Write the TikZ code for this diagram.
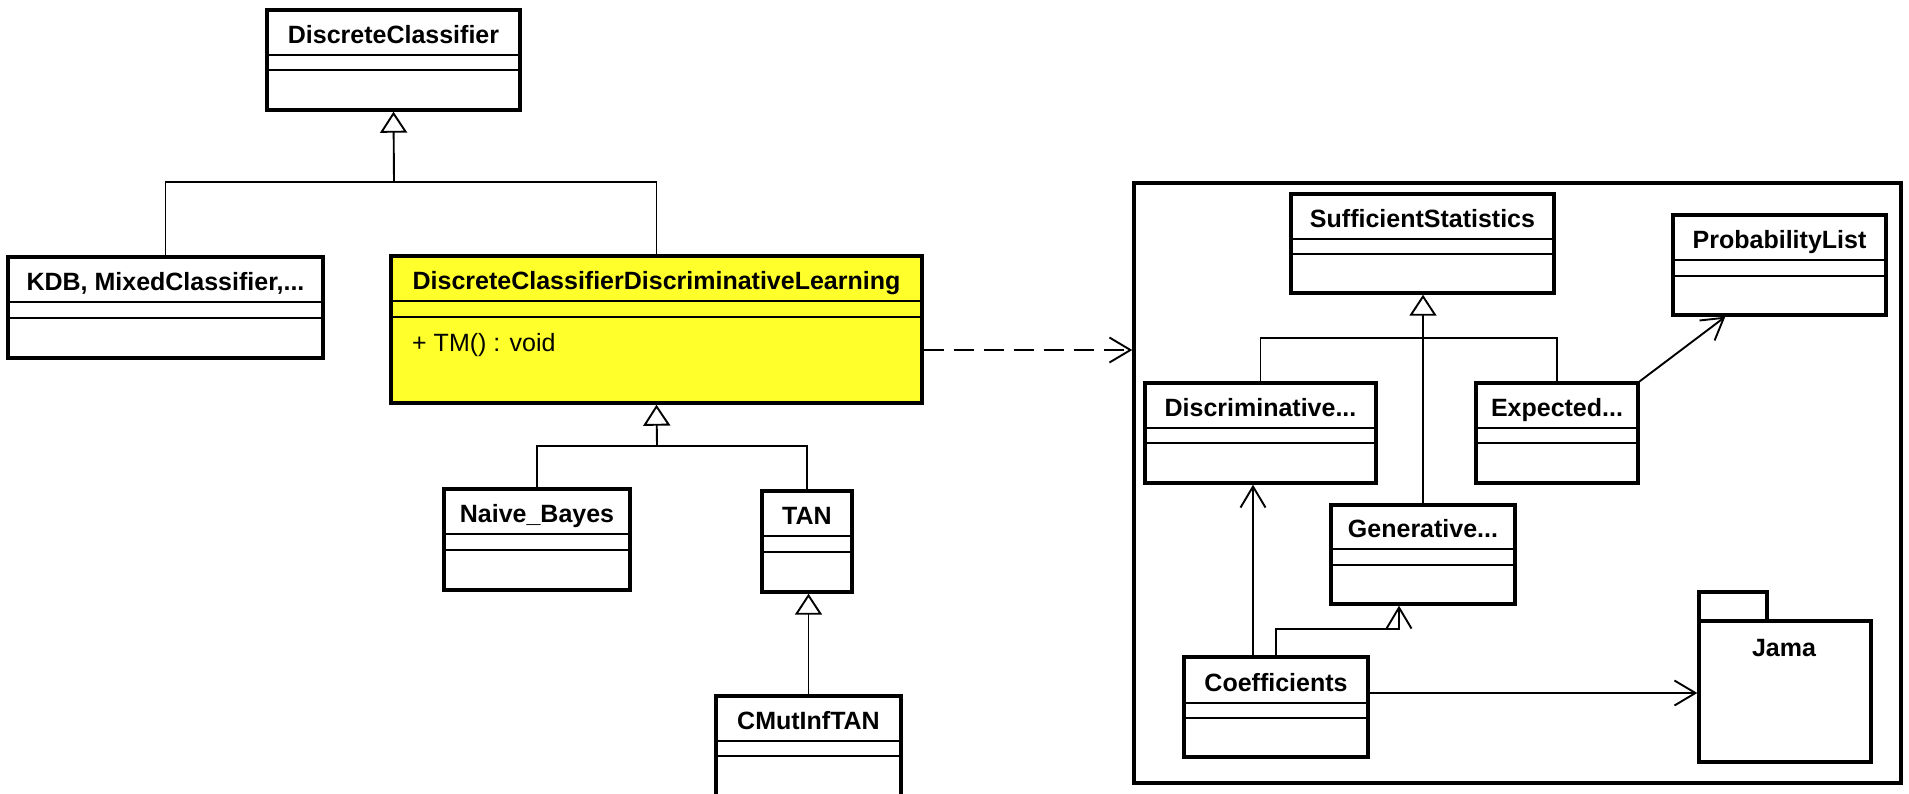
\documentclass[tikz,border=0pt]{standalone}
\usepackage{fontspec}
\setmainfont{Liberation Sans}
\usetikzlibrary{arrows.meta,fit}

\definecolor{umlyellow}{RGB}{255,255,44}

\tikzset{
  x=1pt, y=-1pt,
  classbox/.style={draw, line width=3.4pt, fill=white, inner sep=0pt},
  pkgbox/.style={draw, line width=3.4pt, fill=white, inner sep=0pt},
  divider/.style={line width=1.7pt},
  cname/.style={font=\bfseries\fontsize{25}{29}\selectfont, inner sep=0pt},
  method/.style={font=\fontsize{25}{29}\selectfont, inner sep=0pt},
  conn/.style={line width=1.9pt},
  gen/.style={conn, -{Triangle[length=21pt, width=27pt, fill=white, line width=1.9pt]}},
  dep/.style={conn, -{Straight Barb[length=21pt, width=25pt, line width=1.9pt]}},
}

% #1 extra options, #2 name, #3 left, #4 top, #5 right, #6 bottom,
% #7 first divider, #8 second divider, #9 class name
\newcommand\umlclass[9][]{%
  \node[classbox, #1, fit={(#3,#4) (#5,#6)}] (#2) {};
  \draw[divider] (#3,#7) -- (#5,#7);
  \draw[divider] (#3,#8) -- (#5,#8);
  \node[cname, anchor=base] (#2-t) at ({(#3+#5)/2},{#7-12}) {#9};
}

\begin{document}
\begin{tikzpicture}
\useasboundingbox (0,0) rectangle (1909,793);
\fill[white] (0,0) rectangle (1909,793);

% classifier hierarchy
\umlclass{dc}{267}{10}{520}{110}{55}{70}{DiscreteClassifier}
\umlclass{kdb}{8}{257}{323}{358}{302}{318}{KDB, MixedClassifier,...}
\umlclass[fill=umlyellow]{dcdl}{391}{256}{922}{403}{301}{317}{DiscreteClassifierDiscriminativeLearning}
\node[method, anchor=base west] (dcdl-m) at (412,351) {+ TM() : void};
\umlclass{nb}{444}{489}{630}{590}{534}{550}{Naive\_Bayes}
\umlclass{tan}{762}{491}{852}{592}{536}{552}{TAN}
\umlclass{cmi}{716}{696}{901}{850}{741}{756}{CMutInfTAN}

\coordinate (dcj) at (394,182);
\draw[conn] (kdb.north) |- (dcj);
\draw[conn] (dcdl.north) |- (dcj);
\draw[gen] (dcj) -- (dc.south);

\coordinate (dcdlj) at (657,446);
\draw[conn] (nb.north) |- (dcdlj);
\draw[conn] (tan.north) |- (dcdlj);
\draw[gen] (dcdlj) -- (dcdl.south);

\draw[gen] (cmi.north) -- (cmi.north |- tan.south);

% statistics package
\node[pkgbox, fit={(1134,183) (1901,783)}] (frame) {};

\umlclass{ss}{1291}{194}{1554}{293}{239}{254}{SufficientStatistics}
\umlclass{pl}{1673}{215}{1886}{315}{260}{276}{ProbabilityList}
\umlclass{disc}{1145}{383}{1376}{483}{428}{443}{Discriminative...}
\umlclass{exp}{1476}{383}{1638}{483}{428}{443}{Expected...}
\umlclass{gen}{1331}{505}{1515}{604}{549}{565}{Generative...}
\umlclass{coeff}{1184}{657}{1368}{757}{703}{718}{Coefficients}

\node[pkgbox, fit={(1699,592) (1767,621)}] (jama-tab) {};
\node[pkgbox, fit={(1699,621) (1871,762)}] (jama) {};
\node[cname, anchor=base] (jama-t) at (1784,656) {Jama};

\coordinate (ssbar) at (0,338);
\draw[conn] (disc.north) |- (ssbar -| exp.north) -- (exp.north);
\draw[gen] (gen.north) -- (gen.north |- ss.south);

\draw[dep] (exp.north east) -- ([xshift=54pt]pl.south west);
\draw[dep] ([xshift=-23pt]coeff.north) -- ([xshift=-23pt]coeff.north |- disc.south);
\draw[dep] (coeff.north) -- ++(0,-26) -| ([xshift=-24pt]gen.south);
\coordinate (jy) at (0,693);
\draw[dep] (jy -| coeff.east) -- (jy -| jama.west);

% usage dependency into the package
\coordinate (depy) at (0,350);
\draw[dep, dash pattern=on 20pt off 10pt] (depy -| dcdl.east) -- (depy -| frame.west);
\end{tikzpicture}
\end{document}
